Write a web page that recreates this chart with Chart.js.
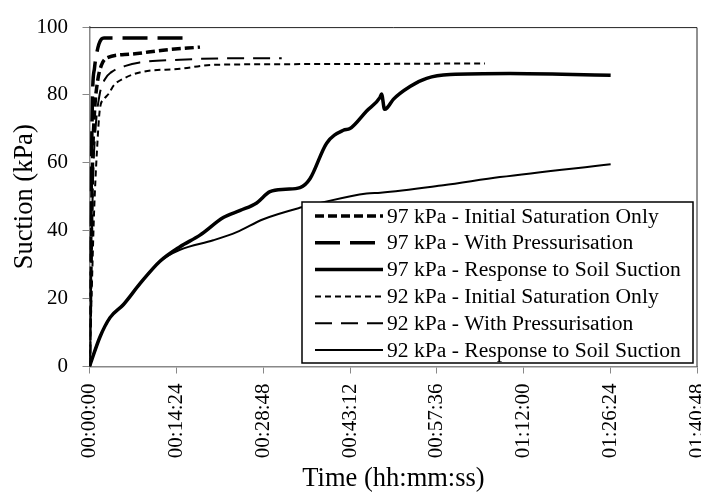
<!DOCTYPE html>
<html>
<head>
<meta charset="utf-8">
<script src="https://cdn.jsdelivr.net/npm/chart.js@4.4.0/dist/chart.umd.min.js"></script>
<style>
  html, body { margin: 0; padding: 0; background: #fff; }
  #chart { display: block; }
</style>
</head>
<body>
<canvas id="chart" width="701" height="494"></canvas>
<script>
// time in seconds, suction in kPa
const sat97Time = [0, 15, 30, 50, 80, 118, 177, 403, 731, 1099];
const sat97Suction = [0, 30, 60, 75, 84, 88.7, 91, 92, 93.2, 94.1];

const press97Time = [0, 10, 20, 30, 50, 70, 94, 120, 144, 500, 930];
const press97Suction = [0, 30, 60, 80, 88, 92, 95, 96.5, 96.8, 96.8, 96.8];

const soil97Time = [0, 104, 204, 336, 502, 701, 900, 1099, 1331, 1500, 1663, 1795, 1950, 2094, 2193, 2359, 2525, 2591, 2757, 2890, 2905, 2935, 2960, 3022, 3188, 3354, 3587, 4183, 4700, 5184];
const soil97Suction = [0, 8.7, 14.4, 18.2, 24.4, 31, 35.3, 38.7, 43.9, 46, 48.2, 51.5, 52.2, 52.7, 55.3, 65.8, 69.6, 70.1, 75.3, 79.3, 80.3, 75.8, 76.2, 78.7, 82.5, 84.9, 86, 86.3, 86.1, 85.8];

const sat92Time = [0, 20, 45, 75, 104, 150, 194, 243, 343, 522, 900, 1228, 2293, 3934];
const sat92Suction = [0, 20, 45, 64, 76, 79, 80.5, 82.9, 84.9, 86.8, 87.7, 88.9, 89.1, 89.3];

const press92Time = [0, 15, 35, 60, 100, 150, 221, 350, 500, 900, 1400, 1912];
const press92Suction = [0, 25, 55, 70, 80, 84.5, 86.8, 88.5, 89.6, 90.4, 90.8, 90.8];

const soil92Time = [0, 104, 204, 336, 502, 701, 900, 1231, 1464, 1729, 2111, 2226, 2757, 2895, 3519, 4083, 5184];
const soil92Suction = [0, 8.7, 14.4, 18.2, 24.4, 31, 34.4, 37.2, 39.6, 43.4, 46.9, 47.7, 51, 51.2, 53.4, 55.8, 59.6];

const seriesLabels = [
  '97 kPa - Initial Saturation Only',
  '97 kPa - With Pressurisation',
  '97 kPa - Response to Soil Suction',
  '92 kPa - Initial Saturation Only',
  '92 kPa - With Pressurisation',
  '92 kPa - Response to Soil Suction'
];

const timeTicks = ['00:00:00', '00:14:24', '00:28:48', '00:43:12', '00:57:36', '01:12:00', '01:26:24', '01:40:48'];

const serif = "'Liberation Serif', 'Times New Roman', serif";

const toPoints = (times, values) => times.map((t, i) => ({ x: t, y: values[i] }));

const makeSet = (label, times, values, width, dash) => ({
  label: label,
  data: toPoints(times, values),
  borderColor: '#000',
  borderWidth: width,
  borderDash: dash,
  borderCapStyle: 'butt',
  pointRadius: 0,
  fill: false,
  cubicInterpolationMode: 'monotone'
});

const datasets = [
  makeSet(seriesLabels[0], sat97Time, sat97Suction, 3.5, [9, 4]),
  makeSet(seriesLabels[1], press97Time, press97Suction, 3.5, [25, 10]),
  makeSet(seriesLabels[2], soil97Time, soil97Suction, 3.5, []),
  makeSet(seriesLabels[3], sat92Time, sat92Suction, 2, [6, 4]),
  makeSet(seriesLabels[4], press92Time, press92Suction, 2, [17, 9]),
  makeSet(seriesLabels[5], soil92Time, soil92Suction, 2, [])
];

// top and right edge of the plot area
const plotBorder = {
  id: 'plotBorder',
  beforeDatasetsDraw(chart) {
    const { ctx, chartArea } = chart;
    ctx.save();
    ctx.strokeStyle = '#222';
    ctx.lineWidth = 1;
    ctx.beginPath();
    ctx.moveTo(chartArea.left, chartArea.top + 0.5);
    ctx.lineTo(chartArea.right - 0.5, chartArea.top + 0.5);
    ctx.lineTo(chartArea.right - 0.5, chartArea.bottom);
    ctx.stroke();
    ctx.restore();
  }
};

// boxed legend sitting inside the plot, bottom right
const legendBox = {
  id: 'legendBox',
  afterDatasetsDraw(chart) {
    const { ctx, chartArea } = chart;
    const left = chartArea.right - 395.5;
    const right = chartArea.right - 4.5;
    const top = 202;
    const bottom = chartArea.bottom - 3.5;
    ctx.save();
    ctx.fillStyle = '#fff';
    ctx.fillRect(left, top, right - left, bottom - top);
    ctx.strokeStyle = '#000';
    ctx.lineWidth = 1.5;
    ctx.strokeRect(left, top, right - left, bottom - top);

    ctx.font = '21.6px ' + serif;
    ctx.textBaseline = 'middle';
    ctx.textAlign = 'left';
    chart.data.datasets.forEach((ds, i) => {
      const y = top + 14 + i * 26.8;
      ctx.strokeStyle = ds.borderColor;
      ctx.lineWidth = ds.borderWidth;
      ctx.setLineDash(ds.borderDash);
      ctx.beginPath();
      ctx.moveTo(left + 13, y);
      ctx.lineTo(left + 81, y);
      ctx.stroke();
      ctx.setLineDash([]);
      ctx.fillStyle = '#000';
      ctx.fillText(ds.label, left + 85, y + 1);
    });
    ctx.restore();
  }
};

new Chart(document.getElementById('chart'), {
  type: 'line',
  data: { datasets: datasets },
  options: {
    responsive: false,
    animation: false,
    devicePixelRatio: 1,
    layout: { padding: { top: 17, right: 3.5, left: 0, bottom: 0 } },
    plugins: {
      legend: { display: false },
      tooltip: { enabled: false }
    },
    scales: {
      x: {
        type: 'linear',
        min: 0,
        max: 6048,
        afterBuildTicks: (scale) => {
          scale.ticks = timeTicks.map((_, i) => ({ value: i * 864 }));
        },
        afterFit: (scale) => {
          scale.height = 127.5;
          scale.paddingLeft = 0;
          scale.paddingRight = 0;
        },
        grid: { drawOnChartArea: false, drawTicks: true, tickLength: 7, color: '#888', lineWidth: 1 },
        border: { display: true, color: '#888', width: 1.5 },
        ticks: {
          autoSkip: false,
          minRotation: 90,
          maxRotation: 90,
          padding: 10,
          color: '#000',
          font: { family: serif, size: 21 },
          callback: (value, index) => timeTicks[index]
        },
        title: {
          display: true,
          text: 'Time (hh:mm:ss)',
          color: '#000',
          font: { family: serif, size: 26.5 },
          padding: { top: 0, bottom: -1 }
        }
      },
      y: {
        min: 0,
        max: 100,
        afterFit: (scale) => { scale.width = 89.5; },
        grid: { drawOnChartArea: false, drawTicks: true, tickLength: 7, color: '#888', lineWidth: 1 },
        border: { display: true, color: '#888', width: 1.5 },
        ticks: {
          stepSize: 20,
          padding: 14.5,
          color: '#000',
          font: { family: serif, size: 21 }
        },
        title: {
          display: true,
          text: 'Suction (kPa)',
          color: '#000',
          font: { family: serif, size: 26.5 },
          padding: { top: 9, bottom: 0 }
        }
      }
    }
  },
  plugins: [plotBorder, legendBox]
});
</script>
</body>
</html>
